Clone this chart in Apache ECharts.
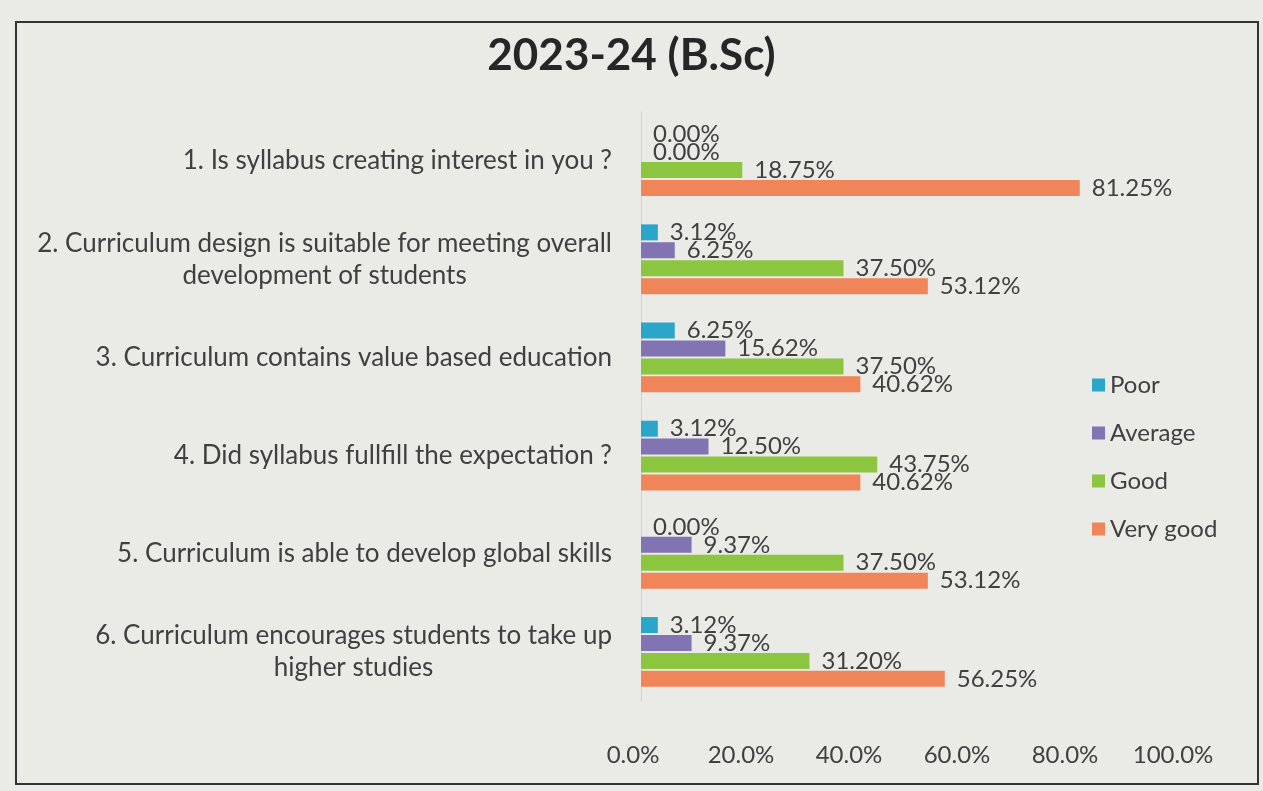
<!DOCTYPE html>
<html>
<head>
<meta charset="utf-8">
<script src="https://cdn.jsdelivr.net/npm/echarts@6/dist/echarts.min.js"></script>
<style>
html,body{margin:0;padding:0;background:#ecebe8;}
#chart{width:1263px;height:791px;}
</style>
</head>
<body>
<div id="chart"></div>
<script>
const categories = [
  ["1. Is syllabus creating interest in you ?"],
  ["2. Curriculum design is suitable for meeting overall", "development of students"],
  ["3. Curriculum contains value based education"],
  ["4. Did syllabus fullfill the expectation ?"],
  ["5. Curriculum is able to develop global skills"],
  ["6. Curriculum encourages students to take up", "higher studies"]
];
const seriesNames = ["Poor", "Average", "Good", "Very good"];
const poor     = [0.00, 3.12, 6.25, 3.12, 0.00, 3.12];
const average  = [0.00, 6.25, 15.62, 12.50, 9.37, 9.37];
const good     = [18.75, 37.50, 37.50, 43.75, 37.50, 31.20];
const veryGood = [81.25, 53.12, 40.62, 40.62, 53.12, 56.25];
const xTicks = [0, 20, 40, 60, 80, 100];

const colors = ["#2aa6c9", "#8273b2", "#8cc53f", "#f08559"];
const seriesData = [poor, average, good, veryGood];
const font = "Lato, 'Open Sans', sans-serif";

const chart = echarts.init(document.getElementById('chart'), null, {renderer: 'canvas'});
chart.setOption({
  backgroundColor: '#eaeae7',
  animation: false,
  title: {
    text: '2023-24 (B.Sc)',
    left: 'center',
    top: 29,
    textStyle: {fontFamily: font, fontSize: 44, fontWeight: 'bold', color: '#262626'}
  },
  graphic: [{
    type: 'rect',
    shape: {x: 16, y: 22, width: 1242, height: 762},
    style: {fill: 'none', stroke: '#333', lineWidth: 2},
    silent: true
  }],
  legend: {
    orient: 'vertical',
    left: 1087,
    top: 368,
    itemWidth: 13,
    itemHeight: 13,
    itemGap: 24,
    icon: 'rect',
    textStyle: {fontFamily: font, fontSize: 24, color: '#404040'},
    data: seriesNames
  },
  grid: {left: 641, right: 82, top: 112, bottom: 90, containLabel: false},
  xAxis: {
    type: 'value',
    min: 0, max: 100, interval: 20,
    axisLine: {show: false},
    axisTick: {show: false},
    splitLine: {show: false},
    axisLabel: {
      fontFamily: font, fontSize: 24, color: '#404040', margin: 42,
      padding: [0, 16, 0, 0],
      formatter: v => v.toFixed(1) + '%'
    }
  },
  yAxis: {
    type: 'category',
    inverse: true,
    data: categories.map(c => c.join('\n')),
    axisLine: {show: true, lineStyle: {color: '#d0d0d0'}},
    axisTick: {show: false},
    axisLabel: {
      margin: 29,
      fontFamily: font, fontSize: 26, color: '#404040', lineHeight: 32,
      formatter: (v) => v.split('\n').map(l => '{c|' + l + '}').join('\n'),
      rich: {c: {align: 'center', fontFamily: font, fontSize: 26, color: '#404040', lineHeight: 32}}
    }
  },
  series: seriesNames.map((name, i) => ({
    name: name,
    type: 'bar',
    data: seriesData[i],
    barWidth: 16,
    barGap: '12%',
    itemStyle: {color: colors[i]},
    label: {
      show: true,
      position: 'right',
      distance: 12,
      fontFamily: font,
      fontSize: 24,
      color: '#404040',
      formatter: p => p.value.toFixed(2) + '%'
    }
  }))
});
</script>
</body>
</html>
